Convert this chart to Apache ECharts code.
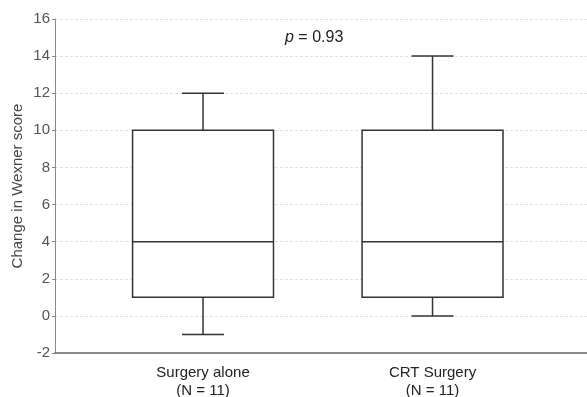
<!DOCTYPE html>
<html>
<head>
<meta charset="utf-8">
<script src="https://cdn.jsdelivr.net/npm/echarts@6/dist/echarts.min.js"></script>
<style>
  html, body { margin: 0; padding: 0; background: #fff; }
  #chart { width: 587px; height: 397px; }
</style>
</head>
<body>
<div id="chart"></div>
<script>
// Groups and their sample sizes
const categories = ['Surgery alone', 'CRT Surgery'];
const sampleSizes = [11, 11];

// Five-number summaries of the change in Wexner score
const whiskerLow  = [-1, 0];
const quartile1   = [1, 1];
const medians     = [4, 4];
const quartile3   = [10, 10];
const whiskerHigh = [12, 14];

// Y axis ticks
const yTicks = [-2, 0, 2, 4, 6, 8, 10, 12, 14, 16];

const pValue = '0.93';

const positions = categories.map((_, i) => i + 1);
const boxData = positions.map((p, i) => [
  p, whiskerLow[i], quartile1[i], medians[i], quartile3[i], whiskerHigh[i]
]);

const FONT = '"Liberation Sans", Arial, sans-serif';
const STROKE = '#333';

const chart = echarts.init(document.getElementById('chart'), null, { renderer: 'canvas' });

chart.setOption({
  backgroundColor: '#fff',
  animation: false,
  title: {
    text: '{i|p} = ' + pValue,
    left: 280,
    top: 25,
    textStyle: {
      fontFamily: FONT, fontSize: 16, color: '#222', fontWeight: 'normal',
      rich: { i: { fontFamily: FONT, fontSize: 16, fontStyle: 'italic', color: '#222' } }
    }
  },
  grid: { left: 55, right: 0, top: 19, bottom: 44, outerBoundsMode: 'none' },
  xAxis: {
    type: 'value',
    min: 0.355,
    max: 2.673,
    splitLine: { show: false },
    axisTick: { show: false },
    axisLine: { show: true, onZero: false, lineStyle: { color: '#666', width: 1.5 } },
    axisLabel: {
      customValues: positions,
      formatter: v => {
        const i = Math.round(v) - 1;
        return categories[i] + '\n(N = ' + sampleSizes[i] + ')';
      },
      fontFamily: FONT, fontSize: 15, color: '#222', lineHeight: 18, margin: 11
    }
  },
  yAxis: {
    type: 'value',
    min: yTicks[0],
    max: yTicks[yTicks.length - 1],
    interval: yTicks[1] - yTicks[0],
    name: 'Change in Wexner score',
    nameLocation: 'middle',
    nameGap: 30,
    nameMoveOverlap: false,
    nameTextStyle: { fontFamily: FONT, fontSize: 15, color: '#444' },
    axisLine: { show: true, lineStyle: { color: '#888', width: 1 } },
    axisTick: { show: true, length: 3, lineStyle: { color: '#888' } },
    axisLabel: { fontFamily: FONT, fontSize: 15, color: '#555', margin: 5 },
    splitLine: { show: true, lineStyle: { color: '#e2e2e2', type: [3, 2], width: 1 } }
  },
  series: [{
    type: 'custom',
    data: boxData,
    encode: { x: 0, y: [1, 2, 3, 4, 5] },
    clip: false,
    renderItem: (params, api) => {
      const x = api.value(0);
      const unit = api.size([1, 0])[0];
      const boxW = unit * 0.614;
      const capW = unit * 0.183;
      const pLow = api.coord([x, api.value(1)]);
      const pQ1 = api.coord([x, api.value(2)]);
      const pMed = api.coord([x, api.value(3)]);
      const pQ3 = api.coord([x, api.value(4)]);
      const pHigh = api.coord([x, api.value(5)]);
      const cx = pLow[0];
      const line = { stroke: STROKE, lineWidth: 1.5, fill: null };
      return {
        type: 'group',
        children: [
          { type: 'line', shape: { x1: cx, y1: pLow[1], x2: cx, y2: pQ1[1] }, style: line },
          { type: 'line', shape: { x1: cx, y1: pQ3[1], x2: cx, y2: pHigh[1] }, style: line },
          { type: 'line', shape: { x1: cx - capW / 2, y1: pLow[1], x2: cx + capW / 2, y2: pLow[1] }, style: line },
          { type: 'line', shape: { x1: cx - capW / 2, y1: pHigh[1], x2: cx + capW / 2, y2: pHigh[1] }, style: line },
          { type: 'rect', shape: { x: cx - boxW / 2, y: pQ3[1], width: boxW, height: pQ1[1] - pQ3[1] },
            style: { stroke: STROKE, lineWidth: 1.5, fill: '#fff' } },
          { type: 'line', shape: { x1: cx - boxW / 2, y1: pMed[1], x2: cx + boxW / 2, y2: pMed[1] }, style: line }
        ]
      };
    }
  }]
});
</script>
</body>
</html>
